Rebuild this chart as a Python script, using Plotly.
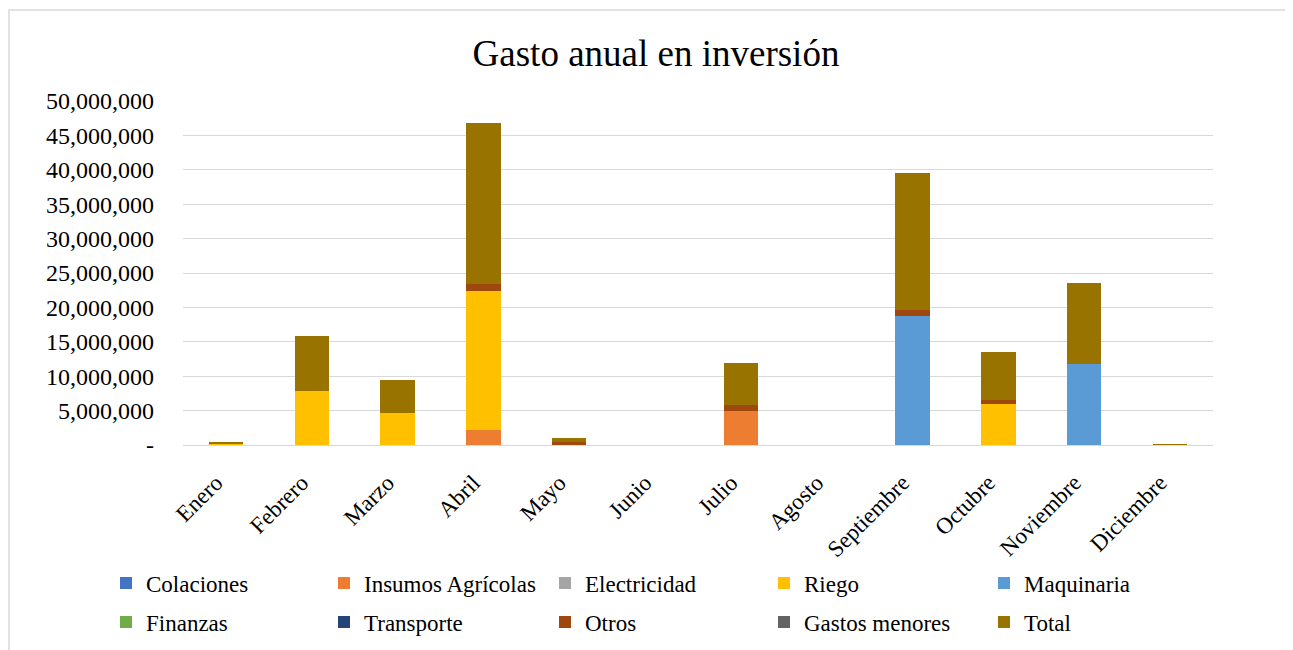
import plotly.graph_objects as go

meses = ["Enero", "Febrero", "Marzo", "Abril", "Mayo", "Junio", "Julio",
         "Agosto", "Septiembre", "Octubre", "Noviembre", "Diciembre"]

colaciones = [0, 0, 0, 0, 0, 0, 0, 0, 0, 0, 0, 0]
insumos = [0, 0, 0, 2200000, 0, 0, 5000000, 0, 0, 0, 0, 0]
electricidad = [0, 0, 0, 0, 0, 0, 0, 0, 0, 0, 0, 0]
riego = [170000, 7900000, 4700000, 20150000, 0, 0, 0, 0, 0, 5950000, 0, 50000]
maquinaria = [0, 0, 0, 0, 0, 0, 0, 0, 18750000, 0, 11780000, 0]
finanzas = [0, 0, 0, 0, 0, 0, 0, 0, 0, 0, 0, 0]
transporte = [0, 0, 0, 0, 0, 0, 0, 0, 0, 0, 0, 0]
otros = [0, 0, 0, 1070000, 450000, 0, 820000, 0, 870000, 620000, 0, 0]
gastos_menores = [0, 0, 0, 0, 0, 0, 0, 0, 0, 0, 0, 0]
total = [170000, 7950000, 4750000, 23450000, 550000, 0, 6100000, 0, 19850000, 7000000, 11780000, 50000]

y_ticks = [0, 5e6, 10e6, 15e6, 20e6, 25e6, 30e6, 35e6, 40e6, 45e6, 50e6]
y_ticktext = ["-", "5,000,000", "10,000,000", "15,000,000", "20,000,000", "25,000,000",
              "30,000,000", "35,000,000", "40,000,000", "45,000,000", "50,000,000"]

series = [
    ("Colaciones", colaciones, "#4472C4"),
    ("Insumos Agrícolas", insumos, "#ED7D31"),
    ("Electricidad", electricidad, "#A5A5A5"),
    ("Riego", riego, "#FFC000"),
    ("Maquinaria", maquinaria, "#5B9BD5"),
    ("Finanzas", finanzas, "#70AD47"),
    ("Transporte", transporte, "#264478"),
    ("Otros", otros, "#9E480E"),
    ("Gastos menores", gastos_menores, "#636363"),
    ("Total", total, "#997300"),
]

FONT = "Liberation Serif, Times New Roman, serif"
W, H = 1293, 650
# page is offset by the default 8px body margin; coordinates below are figure coords
ml, mr, mt, mb = 175, 88, 93, 213
pw = W - ml - mr
ph = H - mt - mb

col_x = [98, 316, 537, 756, 976]
row_y = [575, 614]

fig = go.Figure()
legends = {}
for i, (name, vals, color) in enumerate(series):
    key = "legend" if i == 0 else f"legend{i + 1}"
    fig.add_trace(go.Bar(x=meses, y=vals, name=name, legend=key,
                         marker=dict(color=color, line=dict(width=0))))
    legends[key] = dict(orientation="h", xref="container", yref="container",
                        xanchor="left", yanchor="middle",
                        x=col_x[i % 5] / W, y=1 - row_y[i // 5] / H,
                        font=dict(family=FONT, size=23, color="#000"),
                        bgcolor="rgba(0,0,0,0)", itemwidth=30)

fig.update_layout(
    width=W, height=H,
    margin=dict(l=ml, r=mr, t=mt, b=mb, autoexpand=False),
    barmode="stack", bargap=0.6,
    plot_bgcolor="white", paper_bgcolor="white",
    font=dict(family=FONT, size=23, color="#000"),
    title=dict(text="Gasto anual en inversión", x=648 / W, xref="container",
               xanchor="center", y=1 - 45 / H, yref="container", yanchor="middle",
               font=dict(family=FONT, size=37, color="#000")),
    showlegend=True,
    shapes=[dict(type="rect", xref="paper", yref="paper",
                 x0=(1 - ml) / pw, x1=(1300 - ml) / pw,
                 y0=-(H + 10 - (H - mb)) / ph, y1=((H - mb) - 2) / ph,
                 line=dict(color="#d9d9d9", width=1.5), layer="below")],
    **legends,
)
fig.update_yaxes(range=[0, 50e6], tickvals=y_ticks, ticktext=y_ticktext,
                 showgrid=True, gridcolor="#d9d9d9", gridwidth=1.3, zeroline=False,
                 ticks="", ticklabelstandoff=28,
                 tickfont=dict(family=FONT, size=24, color="#000"))
fig.update_xaxes(showline=True, linecolor="#d9d9d9", linewidth=1.3, tickangle=-45,
                 ticks="", ticklabelstandoff=14, ticklabelshift=-10,
                 tickfont=dict(family=FONT, size=23, color="#000"))

fig.write_html("out.html")
